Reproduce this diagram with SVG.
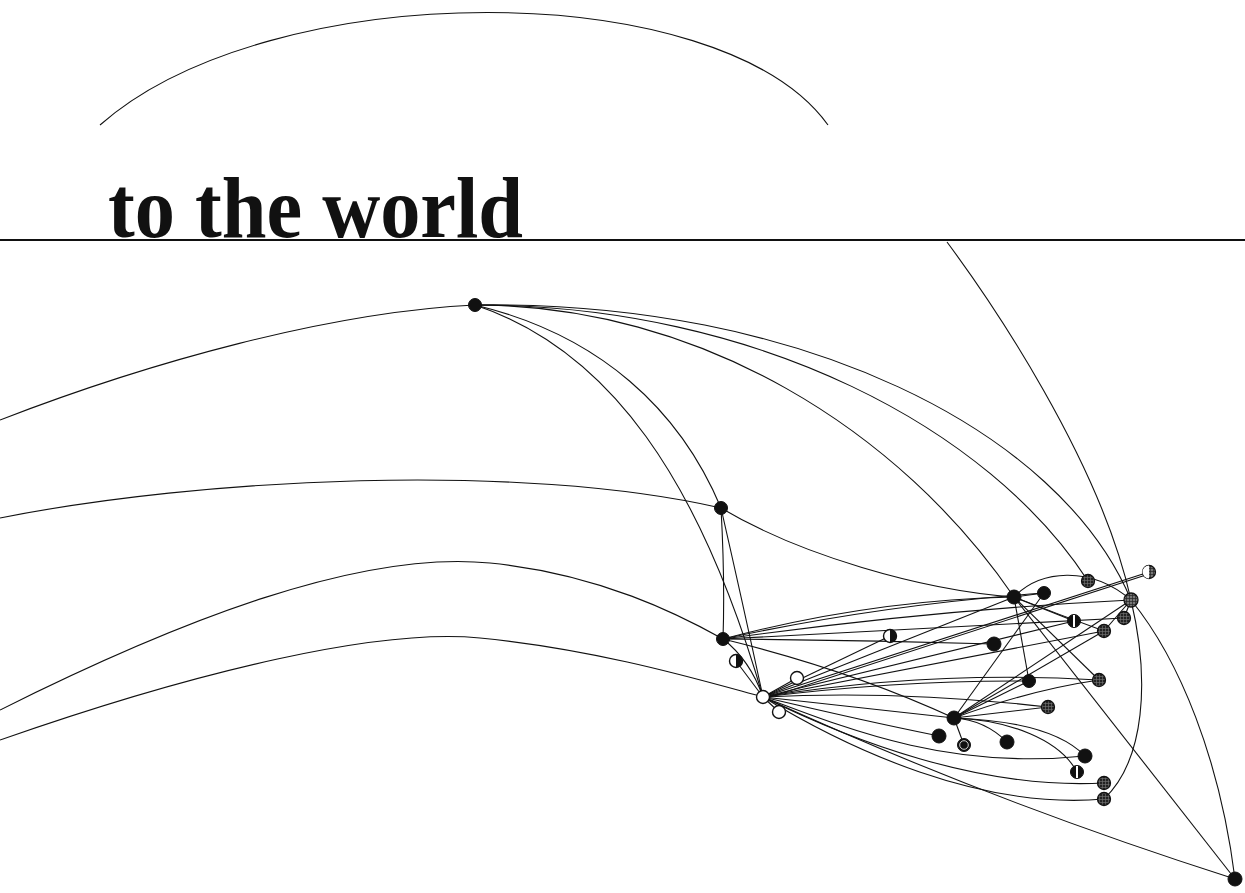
<svg xmlns="http://www.w3.org/2000/svg" width="1245" height="893" viewBox="0 0 1245 893">
<style>
.e{fill:none;stroke:#111;stroke-width:1.1}
.k{fill:#111;stroke:#111;stroke-width:1}
.w{fill:#fff;stroke:#111;stroke-width:1.4}
.h{fill:url(#hatch);stroke:#111;stroke-width:1.3}
.l{fill:url(#hatchL);stroke:#111;stroke-width:1.3}
.title{font-family:"Liberation Serif",serif;font-weight:bold;font-size:87px;fill:#111}
</style>
<defs>
<pattern id="hatch" width="3" height="3" patternUnits="userSpaceOnUse">
<rect width="3" height="3" fill="#222"/><path d="M0,1.5H3M1.5,0V3" stroke="#777" stroke-width="0.6"/>
</pattern>
<pattern id="hatchL" width="3" height="3" patternUnits="userSpaceOnUse">
<rect width="3" height="3" fill="#777"/><path d="M0,1.5H3M1.5,0V3" stroke="#222" stroke-width="0.7"/>
</pattern>
</defs>
<rect width="1245" height="893" fill="#fff"/>
<g id="decor">
<path class="e" d="M100,125 C270,-25 720,-25 828,125"/>
<path d="M0,240 H1245" stroke="#111" stroke-width="2"/>
<text class="title" x="108" y="237" textLength="415" lengthAdjust="spacingAndGlyphs">to the world</text>
</g>
<g id="connectors">
<path class="e" d="M0,420 C150,362 330,312 475,305"/>
<path class="e" d="M0,518 C200,478 520,462 721,508"/>
<path class="e" d="M0,710 C180,620 360,550 490,563 C600,574 680,615 723,639"/>
<path class="e" d="M0,740 C200,670 380,628 480,638 C600,650 700,680 763,697"/>
<path class="e" d="M475,305 C600,335 680,410 721,508"/>
<path class="e" d="M475,305 C610,350 700,480 763,697"/>
<path class="e" d="M475,305 C700,305 900,430 1014,597"/>
<path class="e" d="M475,305 C760,305 990,430 1088,581"/>
<path class="e" d="M475,305 C800,300 1060,430 1131,600"/>
<path class="e" d="M947,242 C990,300 1100,460 1131,600"/>
<path class="e" d="M721,508 Q725,580 723,639"/>
<path class="e" d="M721,508 Q742,600 763,697"/>
<path class="e" d="M721,508 C800,555 920,590 1014,597"/>
<path class="e" d="M723,639 Q750,660 763,697"/>
<path class="e" d="M723,639 Q870,600 1014,597"/>
<path class="e" d="M723,639 Q880,605 1044,593"/>
<path class="e" d="M723,639 Q930,610 1131,600"/>
<path class="e" d="M723,639 Q860,640 994,644"/>
<path class="e" d="M723,639 Q850,670 954,718"/>
<path class="e" d="M723,639 L1124,618"/>
<path class="e" d="M763,697 L890,636"/>
<path class="e" d="M763,697 L797,678"/>
<path class="e" d="M763,697 L779,712"/>
<path class="e" d="M763,697 L736,661"/>
<path class="e" d="M763,697 L1149,572"/>
<path class="e" d="M764,699 L1149,574"/>
<path class="e" d="M763,697 L1014,597"/>
<path class="e" d="M763,697 L1074,621"/>
<path class="e" d="M763,697 L1104,631"/>
<path class="e" d="M763,697 Q900,680 1029,681"/>
<path class="e" d="M763,697 Q930,670 1099,680"/>
<path class="e" d="M763,697 Q900,690 1048,707"/>
<path class="e" d="M763,697 L954,718"/>
<path class="e" d="M763,697 Q860,720 939,736"/>
<path class="e" d="M763,697 C850,730 950,770 1085,756"/>
<path class="e" d="M763,697 C850,740 980,790 1104,783"/>
<path class="e" d="M763,697 C850,750 980,810 1104,799"/>
<path class="e" d="M763,697 C900,760 1050,820 1235,879"/>
<path class="e" d="M1014,597 L1044,593"/>
<path class="e" d="M1014,597 C1040,570 1090,565 1131,600"/>
<path class="e" d="M1014,597 L1029,681"/>
<path class="e" d="M1014,597 L1074,621"/>
<path class="e" d="M1014,597 Q1060,615 1104,631"/>
<path class="e" d="M1014,597 L1099,680"/>
<path class="e" d="M1014,597 L1235,879"/>
<path class="e" d="M1131,600 L1124,618"/>
<path class="e" d="M1131,600 L1104,631"/>
<path class="e" d="M1131,600 C1180,660 1220,760 1235,879"/>
<path class="e" d="M1131,600 C1150,680 1145,760 1104,799"/>
<path class="e" d="M954,718 L1029,681"/>
<path class="e" d="M954,718 L1048,707"/>
<path class="e" d="M954,718 Q1030,690 1099,680"/>
<path class="e" d="M954,718 L1104,631"/>
<path class="e" d="M954,718 L1131,600"/>
<path class="e" d="M954,718 L1044,593"/>
<path class="e" d="M954,718 L964,745"/>
<path class="e" d="M954,718 Q985,720 1007,742"/>
<path class="e" d="M954,718 C1010,720 1060,730 1085,756"/>
<path class="e" d="M954,718 C1010,720 1060,740 1077,772"/>
</g>
<g id="nA"><circle class="k" cx="475" cy="305" r="6.5"/></g>
<g id="nB"><circle class="k" cx="721" cy="508" r="6.5"/></g>
<g id="nC"><circle class="k" cx="723" cy="639" r="6.5"/></g>
<g id="nD"><circle class="w" cx="763" cy="697" r="6.5"/></g>
<g id="nW1"><circle class="w" cx="736" cy="661" r="6.5"/><path d="M736,654.5 A6.5,6.5 0 0 1 736,667.5 Z" fill="#111"/></g>
<g id="nW2"><circle class="w" cx="797" cy="678" r="6.5"/></g>
<g id="nW3"><circle class="w" cx="779" cy="712" r="6.5"/></g>
<g id="nN1"><circle class="w" cx="890" cy="636" r="6.5"/><path d="M890,629.5 A6.5,6.5 0 0 1 890,642.5 Z" fill="#111"/></g>
<g id="nE"><circle class="k" cx="1014" cy="597" r="7"/></g>
<g id="nN2"><circle class="k" cx="1044" cy="593" r="6.5"/></g>
<g id="nN3"><circle class="h" cx="1088" cy="581" r="6.5"/></g>
<g id="nN4"><circle class="l" cx="1149" cy="572" r="6.5"/><path d="M1149,565.5 A6.5,6.5 0 0 0 1149,578.5 Z" fill="#fff"/></g>
<g id="nF"><circle class="l" cx="1131" cy="600" r="7"/></g>
<g id="nN5"><circle class="h" cx="1124" cy="618" r="6.5"/></g>
<g id="nN6"><circle class="h" cx="1104" cy="631" r="6.5"/></g>
<g id="nN7"><circle class="k" cx="1074" cy="621" r="6.5"/><rect x="1073" y="615" width="2" height="12" fill="#fff"/></g>
<g id="nN8"><circle class="k" cx="994" cy="644" r="7"/></g>
<g id="nN9"><circle class="k" cx="1029" cy="681" r="6.5"/></g>
<g id="nN10"><circle class="h" cx="1099" cy="680" r="6.5"/></g>
<g id="nN11"><circle class="h" cx="1048" cy="707" r="6.5"/></g>
<g id="nG"><circle class="k" cx="954" cy="718" r="7"/></g>
<g id="nN12"><circle class="k" cx="939" cy="736" r="7"/></g>
<g id="nN13"><circle class="k" cx="964" cy="745" r="6.5"/><circle cx="964" cy="745" r="4.3" fill="none" stroke="#fff" stroke-width="0.8"/></g>
<g id="nN14"><circle class="k" cx="1007" cy="742" r="7"/></g>
<g id="nN15"><circle class="k" cx="1085" cy="756" r="7"/></g>
<g id="nN16"><circle class="k" cx="1077" cy="772" r="6.5"/><rect x="1076" y="766" width="2" height="12" fill="#fff"/></g>
<g id="nN17"><circle class="h" cx="1104" cy="783" r="6.5"/></g>
<g id="nN18"><circle class="h" cx="1104" cy="799" r="6.5"/></g>
<g id="nH"><circle class="k" cx="1235" cy="879" r="7"/></g>
</svg>
